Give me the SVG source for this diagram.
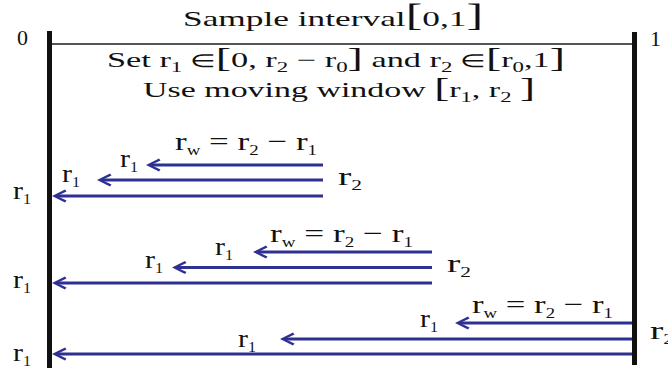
<svg xmlns="http://www.w3.org/2000/svg" width="668" height="372" viewBox="0 0 668 372">
<style>
text{font-family:"Liberation Serif","Times New Roman",serif;fill:#111}
.t{font-size:22px}
.m{font-size:21px}
.lb{font-size:26px}
.s{font-size:14px}
.e{font-size:18px}
.bb{font-size:31px}
.b2{font-size:28px}
.bar{stroke:#111;stroke-width:5}
.arr{stroke:#2e3192;stroke-width:3;fill:none;marker-end:url(#ah)}
</style>
<defs>
<marker id="ah" viewBox="-16 -8 16 16" markerWidth="16" markerHeight="16" refX="-5" refY="0" orient="auto" markerUnits="userSpaceOnUse" overflow="visible">
<path d="M0,0 L-13,-6.5 L-14.5,-4.5 L-5,0 L-14.5,4.5 L-13,6.5 Z" fill="#2e3192"/>
</marker>
</defs>
<rect width="668" height="372" fill="#fff"/>

<g id="header">
<text class="t" x="183" y="26" textLength="300" lengthAdjust="spacingAndGlyphs">Sample interval<tspan class="bb">[</tspan>0,1<tspan class="bb">]</tspan></text>
<text class="m" x="107" y="67" textLength="458" lengthAdjust="spacingAndGlyphs">Set r<tspan class="s" dy="5">1</tspan><tspan class="e" dy="-5"> ∈</tspan><tspan class="b2">[</tspan>0, r<tspan class="s" dy="5">2</tspan><tspan dy="-5"> − r</tspan><tspan class="s" dy="5">0</tspan><tspan class="b2" dy="-5">]</tspan> and r<tspan class="s" dy="5">2</tspan><tspan class="e" dy="-5"> ∈</tspan><tspan class="b2">[</tspan>r<tspan class="s" dy="5">0</tspan><tspan dy="-5">,1</tspan><tspan class="b2">]</tspan></text>
<text class="m" x="143" y="97" textLength="392" lengthAdjust="spacingAndGlyphs">Use moving window <tspan class="b2">[</tspan>r<tspan class="s" dy="5">1</tspan><tspan dy="-5">, r</tspan><tspan class="s" dy="5">2</tspan><tspan dy="-5"> </tspan><tspan class="b2">]</tspan></text>
</g>

<g id="axis">
<line class="bar" x1="49.5" y1="31" x2="49.5" y2="368"/>
<line class="bar" x1="634.5" y1="32" x2="634.5" y2="365"/>
<line x1="52" y1="44" x2="632" y2="44" stroke="#555" stroke-width="2"/>
<text class="t" x="17" y="45">0</text>
<text class="t" x="650" y="46">1</text>
</g>

<g id="connectors">
<line class="arr" x1="323" y1="165" x2="151" y2="165"/>
<line class="arr" x1="323" y1="180" x2="102" y2="180"/>
<line class="arr" x1="323" y1="196" x2="57" y2="196"/>
<line class="arr" x1="432" y1="252" x2="258" y2="252"/>
<line class="arr" x1="432" y1="267.5" x2="177" y2="267.5"/>
<line class="arr" x1="432" y1="283" x2="57" y2="283"/>
<line class="arr" x1="632" y1="323" x2="460" y2="323"/>
<line class="arr" x1="632" y1="339" x2="285" y2="339"/>
<line class="arr" x1="632" y1="354" x2="57" y2="354"/>
</g>

<g id="window1">
<text class="lb" x="175" y="150" textLength="142" lengthAdjust="spacingAndGlyphs">r<tspan class="s" dy="5">w</tspan><tspan dy="-5"> = r</tspan><tspan class="s" dy="5">2</tspan><tspan dy="-5"> − r</tspan><tspan class="s" dy="5">1</tspan></text>
<text class="lb" x="120" y="167" textLength="18" lengthAdjust="spacingAndGlyphs">r<tspan class="s" dy="5">1</tspan></text>
<text class="lb" x="62" y="182" textLength="18" lengthAdjust="spacingAndGlyphs">r<tspan class="s" dy="5">1</tspan></text>
<text class="lb" x="13" y="199" textLength="18" lengthAdjust="spacingAndGlyphs">r<tspan class="s" dy="5">1</tspan></text>
<text class="lb" x="338" y="185" textLength="24" lengthAdjust="spacingAndGlyphs">r<tspan class="s" dy="5">2</tspan></text>
</g>

<g id="window2">
<text class="lb" x="270" y="242" textLength="143" lengthAdjust="spacingAndGlyphs">r<tspan class="s" dy="5">w</tspan><tspan dy="-5"> = r</tspan><tspan class="s" dy="5">2</tspan><tspan dy="-5"> − r</tspan><tspan class="s" dy="5">1</tspan></text>
<text class="lb" x="215" y="255" textLength="18" lengthAdjust="spacingAndGlyphs">r<tspan class="s" dy="5">1</tspan></text>
<text class="lb" x="145" y="268" textLength="18" lengthAdjust="spacingAndGlyphs">r<tspan class="s" dy="5">1</tspan></text>
<text class="lb" x="13" y="288" textLength="18" lengthAdjust="spacingAndGlyphs">r<tspan class="s" dy="5">1</tspan></text>
<text class="lb" x="447" y="272" textLength="24" lengthAdjust="spacingAndGlyphs">r<tspan class="s" dy="5">2</tspan></text>
</g>

<g id="window3">
<text class="lb" x="472" y="313" textLength="141" lengthAdjust="spacingAndGlyphs">r<tspan class="s" dy="5">w</tspan><tspan dy="-5"> = r</tspan><tspan class="s" dy="5">2</tspan><tspan dy="-5"> − r</tspan><tspan class="s" dy="5">1</tspan></text>
<text class="lb" x="420" y="327" textLength="18" lengthAdjust="spacingAndGlyphs">r<tspan class="s" dy="5">1</tspan></text>
<text class="lb" x="238" y="347" textLength="18" lengthAdjust="spacingAndGlyphs">r<tspan class="s" dy="5">1</tspan></text>
<text class="lb" x="13" y="361" textLength="18" lengthAdjust="spacingAndGlyphs">r<tspan class="s" dy="5">1</tspan></text>
<text class="lb" x="650" y="339" textLength="24" lengthAdjust="spacingAndGlyphs">r<tspan class="s" dy="5">2</tspan></text>
</g>
</svg>
